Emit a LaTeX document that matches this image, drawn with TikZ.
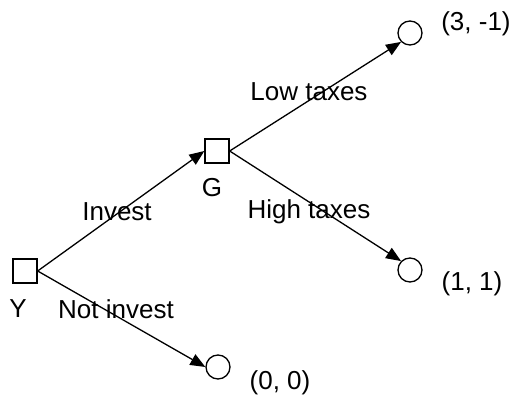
\documentclass[tikz,border=0pt]{standalone}
\usepackage{fontspec}
\setmainfont{Liberation Sans}
\usetikzlibrary{arrows.meta}

\begin{document}
\begin{tikzpicture}[x=1pt,y=1pt,
    player/.style={draw, line width=1.3pt, minimum size=24pt, inner sep=0pt},
    payoff/.style={draw, line width=1.3pt, circle, minimum size=24pt, inner sep=0pt},
    move/.style={line width=1.3pt, -{Triangle[length=15pt,width=12pt]}},
    lbl/.style={font=\fontsize{26}{30}\selectfont, inner sep=0pt}]
  \useasboundingbox (0,0) rectangle (512,399);
  \node [player] (Y)  at (25,128) {};
  \node [player] (G)  at (217,248) {};
  \node [payoff] (lo) at (410,366) {};
  \node [payoff] (hi) at (410,129) {};
  \node [payoff] (no) at (218,32) {};
  \draw [move] (Y.east) -- (G.west);
  \draw [move] (Y.east) -- (no.west);
  \draw [move] (G.east) -- (lo.south west);
  \draw [move] (G.east) -- (hi.north west);
  \node [lbl] (yname)  at (18,90)   {Y};
  \node [lbl] (gname)  at (212,211) {G};
  \node [lbl] (inv)    at (117,187) {Invest};
  \node [lbl] (notinv) at (116,90)  {Not invest};
  \node [lbl] (lowt)   at (309,307) {Low taxes};
  \node [lbl] (hight)  at (309,187) {High taxes};
  \node [lbl] (plo)    at (476,375) {(3, -1)};
  \node [lbl] (phi)    at (472,115) {(1, 1)};
  \node [lbl] (pno)    at (280,16)  {(0, 0)};
\end{tikzpicture}
\end{document}
